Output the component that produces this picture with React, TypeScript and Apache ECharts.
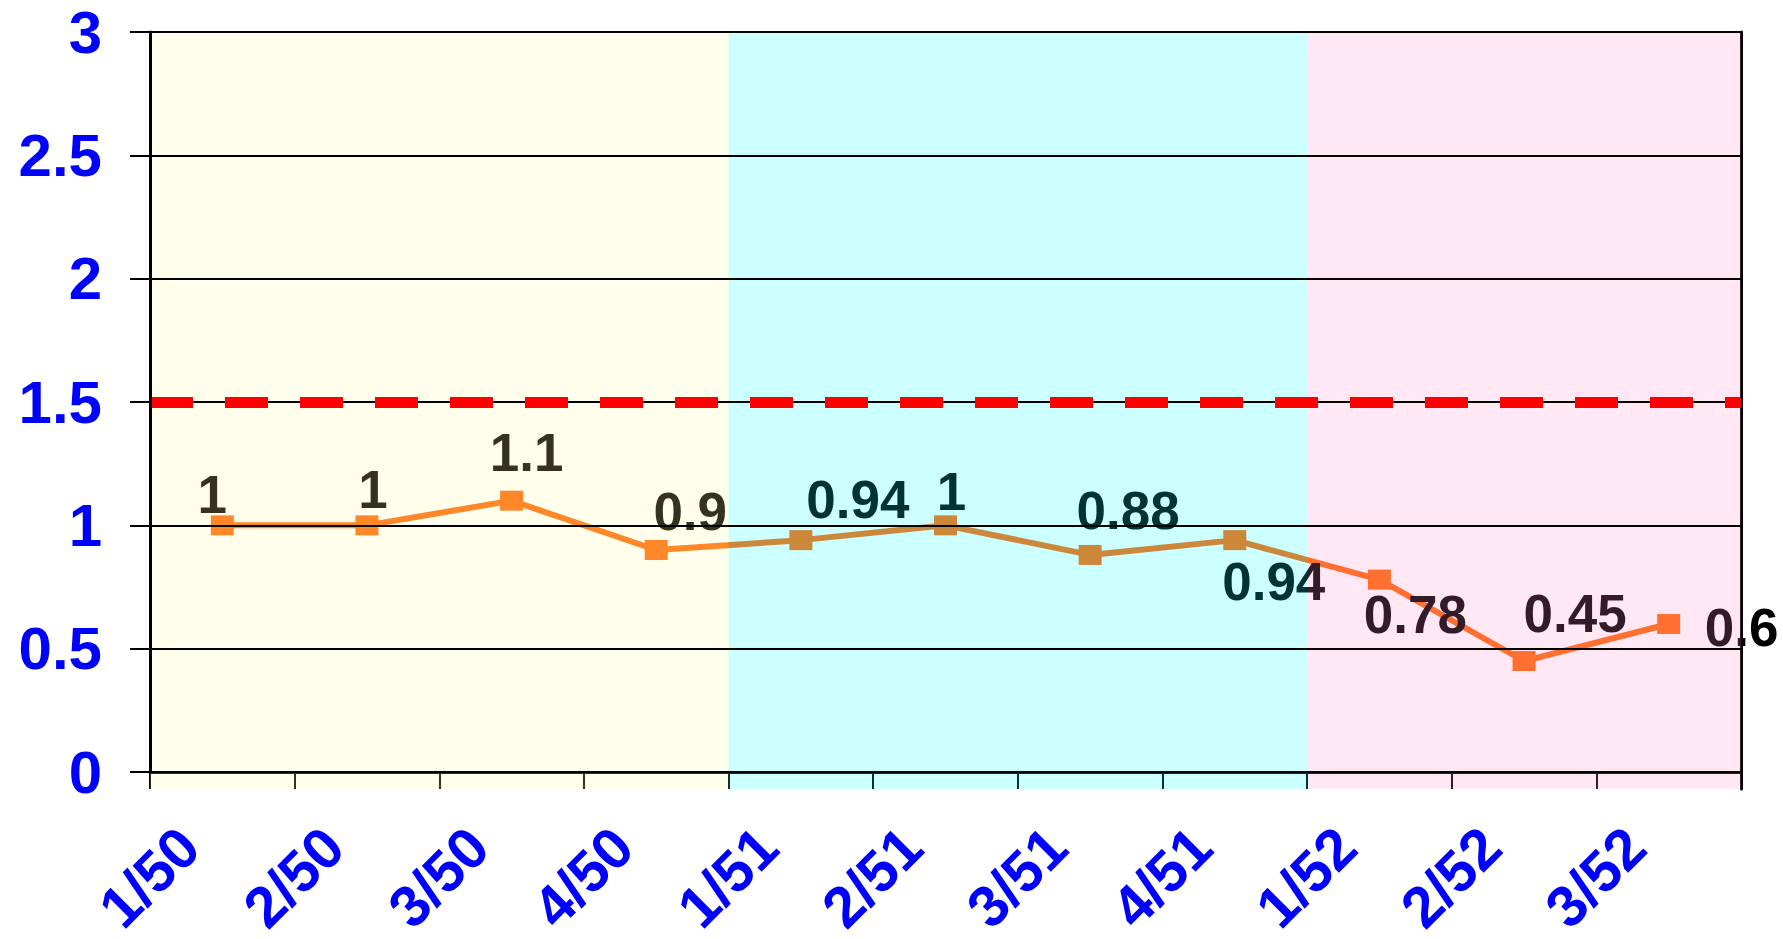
import React, { useEffect, useRef } from "react";
import * as echarts from "echarts";

const categories = ["1/50", "2/50", "3/50", "4/50", "1/51", "2/51", "3/51", "4/51", "1/52", "2/52", "3/52"];
const values = [1, 1, 1.1, 0.9, 0.94, 1, 0.88, 0.94, 0.78, 0.45, 0.6];
const labelTexts = ["1", "1", "1.1", "0.9", "0.94", "1", "0.88", "0.94", "0.78", "0.45", "0.6"];
const threshold = 1.5;
const yTicks = [0, 0.5, 1, 1.5, 2, 2.5, 3];
const bandRanges = [
  ["1/50", "4/50"],
  ["1/51", "4/51"],
  ["1/52", "3/52"],
];
const bandColors = ["rgba(255,255,160,0.2)", "rgba(0,255,255,0.2)", "rgba(255,140,200,0.2)"];
const labelOffsets = [
  [-10, -31], [6, -36], [15, -48], [34, -39], [57, -41], [6, -34],
  [38, -44], [39, 41], [36, 35], [51, -48], [73, 3],
];

const FONT = "'Liberation Sans', Arial, sans-serif";

export default function App() {
  const ref = useRef<HTMLDivElement>(null);
  useEffect(() => {
    if (!ref.current) return;
    const chart = echarts.init(ref.current, null, { renderer: "svg" });
    const gridLeft = 150, gridRight = 42, gridTop = 32, gridBottom = 167;
    const option: any = {
      animation: false,
      backgroundColor: "#ffffff",
      grid: [
        { left: gridLeft, right: gridRight, top: gridTop, bottom: gridBottom, outerBoundsMode: "none", containLabel: false },
        { left: gridLeft, right: gridRight, top: gridTop, bottom: gridBottom - 17, outerBoundsMode: "none", containLabel: false },
      ],
      xAxis: [
        {
          type: "category",
          gridIndex: 0,
          data: categories,
          boundaryGap: true,
          axisLine: { show: true, lineStyle: { color: "#000", width: 3 } },
          axisTick: { show: true, length: 17, lineStyle: { color: "#000", width: 2 } },
          axisLabel: {
            rotate: 45,
            margin: 32,
            padding: [0, 47, 0, 0],
            color: "#0000ff",
            fontWeight: "bold",
            fontSize: 58,
            fontFamily: FONT,
            interval: 0,
          },
          splitLine: { show: false },
        },
        {
          type: "value",
          gridIndex: 1,
          min: -0.5,
          max: categories.length - 0.5,
          show: false,
        },
      ],
      yAxis: [
        {
          type: "value",
          gridIndex: 0,
          min: 0,
          max: 3,
          interval: 0.5,
          z: 10,
          axisLine: { show: true, lineStyle: { color: "#000", width: 3 } },
          axisTick: { show: true, length: 20, lineStyle: { color: "#000", width: 2 } },
          axisLabel: {
            margin: 48,
            color: "#0000ff",
            fontWeight: "bold",
            fontSize: 60,
            lineHeight: 60,
            fontFamily: FONT,
            customValues: yTicks,
          },
          splitLine: { show: true, lineStyle: { color: "#000", width: 2 } },
        },
        {
          type: "value",
          gridIndex: 1,
          min: 0,
          max: 1,
          position: "right",
          axisLine: { show: true, onZero: false, lineStyle: { color: "#000", width: 3 } },
          axisTick: { show: false },
          axisLabel: { show: false },
          splitLine: { show: false },
        },
      ],
      series: [
        {
          type: "line",
          xAxisIndex: 0,
          yAxisIndex: 0,
          z: 2,
          data: values.map((v, i) => ({
            value: v,
            label: {
              show: true,
              position: "inside",
              offset: labelOffsets[i],
              formatter: labelTexts[i],
            },
          })),
          lineStyle: { color: "#FF6A0A", width: 6 },
          itemStyle: { color: "#FF6A0A" },
          symbol: "rect",
          symbolSize: [23, 20],
          label: {
            show: true,
            color: "#000",
            fontWeight: "bold",
            fontSize: 53,
            fontFamily: FONT,
          },
        },
        {
          type: "line",
          xAxisIndex: 1,
          yAxisIndex: 1,
          z: 5,
          data: [],
          silent: true,
          markArea: {
            silent: true,
            z: 5,
            data: bandRanges.map((r, i) => [
              {
                xAxis: categories.indexOf(r[0]) - 0.5,
                yAxis: 0,
                itemStyle: { color: bandColors[i] },
              },
              { xAxis: categories.indexOf(r[1]) + 0.5, yAxis: 1 },
            ]),
          },
        },
        {
          type: "line",
          xAxisIndex: 0,
          yAxisIndex: 0,
          z: 10,
          data: [],
          silent: true,
          markLine: {
            silent: true,
            z: 10,
            symbol: ["none", "none"],
            label: { show: false },
            lineStyle: { color: "#ff0000", width: 11, type: [43, 32] },
            data: [{ yAxis: threshold }],
          },
        },
      ],
    };
    chart.setOption(option);
    return () => chart.dispose();
  }, []);
  return (
    <div
      ref={ref}
      style={{ position: "fixed", left: 0, top: 0, width: 1783, height: 939 }}
    />
  );
}
